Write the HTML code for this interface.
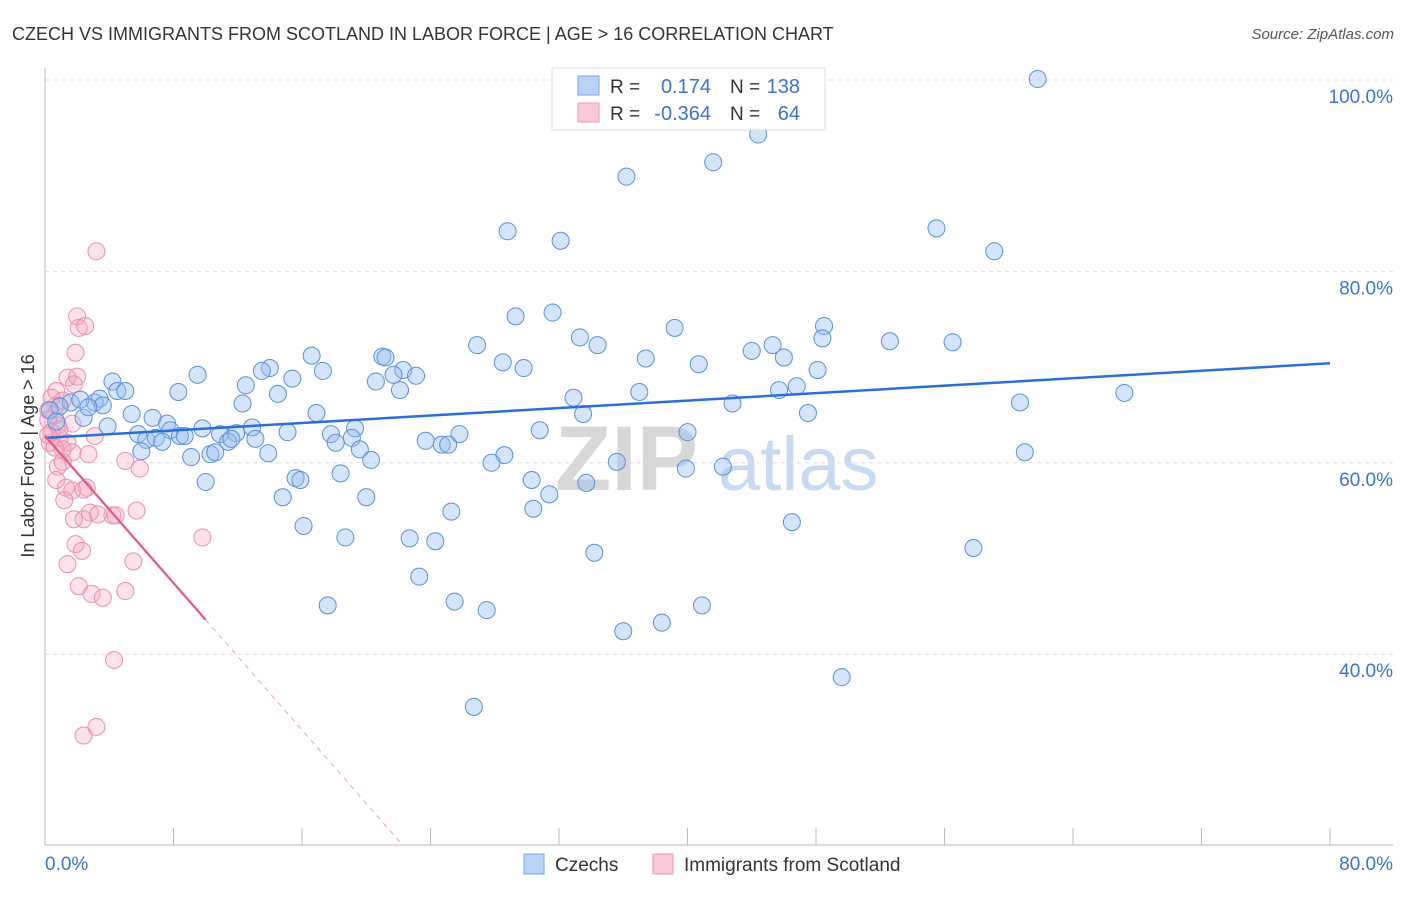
<!DOCTYPE html>
<html><head><meta charset="utf-8">
<style>
html,body{margin:0;padding:0;background:#fff;}
body{width:1406px;height:892px;overflow:hidden;font-family:"Liberation Sans",sans-serif;}
svg text{font-family:"Liberation Sans",sans-serif;}
</style></head>
<body>
<svg id="chart" width="1406" height="892" viewBox="0 0 1406 892">
  <text x="12" y="40" font-size="18" fill="#333">CZECH VS IMMIGRANTS FROM SCOTLAND IN LABOR FORCE | AGE &gt; 16 CORRELATION CHART</text>
  <text x="1394" y="39" font-size="15" fill="#555" font-style="italic" text-anchor="end">Source: ZipAtlas.com</text>
  <g>
    <text x="555" y="490" font-size="92" fill="#d8d8d8" font-family="Liberation Serif" font-weight="bold">ZIP</text>
    <text x="718" y="490" font-size="76" fill="#c8daf2">atlas</text>
  </g>
  <g id="grid"></g>
  <g id="axes"></g>
  <g id="pts"></g>
  <g id="trend"></g>
  <text transform="translate(34,456) rotate(-90)" font-size="18" fill="#333" text-anchor="middle">In Labor Force | Age &gt; 16</text>
  <g>
    <rect x="552" y="68" width="273" height="62" fill="#fff" stroke="#ddd"/>
    <rect x="578" y="76" width="21" height="19" fill="#b9d3f5" stroke="#7aa6e3"/>
    <rect x="578" y="103" width="21" height="19" fill="#fbc8d7" stroke="#ee9ab4"/>
    <text x="610" y="93" font-size="19" fill="#333">R =</text>
    <text x="711" y="93" font-size="20" fill="#3a74d0" text-anchor="end">0.174</text>
    <text x="730" y="93" font-size="19" fill="#333">N =</text>
    <text x="800" y="93" font-size="20" fill="#3a74d0" text-anchor="end">138</text>
    <text x="610" y="120" font-size="19" fill="#333">R =</text>
    <text x="711" y="120" font-size="20" fill="#3a74d0" text-anchor="end">-0.364</text>
    <text x="730" y="120" font-size="19" fill="#333">N =</text>
    <text x="800" y="120" font-size="20" fill="#3a74d0" text-anchor="end">64</text>
  </g>
  <g>
    <rect x="524" y="854" width="20" height="20" fill="#b9d3f5" stroke="#7aa6e3"/>
    <text x="555" y="871" font-size="19" fill="#333">Czechs</text>
    <rect x="653" y="854" width="20" height="20" fill="#fbc8d7" stroke="#ee9ab4"/>
    <text x="684" y="871" font-size="19" fill="#333">Immigrants from Scotland</text>
  </g>
</svg>
<script>
const blueX=[61.8,44.4,41.6,36.2,28.8,32.1,55.5,59.1,29.3,31.6,39.2,48.5,48.4,33.3,34.4,26.9,45.3,44.0,52.6,56.5,37.4,40.7,46.0,48.1,28.5,29.8,21.0,21.2,16.6,14.0,13.5,17.3,9.5,22.3,21.7,23.1,20.6,15.4,12.5,14.5,22.1,4.2,4.5,5.0,8.3,37.0,45.7,46.8,67.2,32.9,33.5,42.8,47.5,60.7,12.3,3.1,3.4,3.6,1.6,0.9,2.2,5.4,6.7,16.9,3.9,2.4,7.6,7.8,9.8,12.9,15.1,19.3,11.9,5.8,6.3,6.9,7.3,8.4,8.7,10.9,11.4,11.6,13.1,17.8,18.1,19.1,23.7,25.8,30.8,40.0,24.7,25.1,6.0,9.1,10.3,10.6,13.9,19.6,20.3,28.6,27.8,35.6,39.9,42.2,61.0,18.4,15.6,15.9,10.0,30.3,33.7,14.8,20.0,31.4,30.4,25.3,16.1,46.5,18.7,22.7,24.3,34.2,57.8,23.3,25.5,17.6,27.5,40.9,38.4,36.0,49.6,26.7,0.3,0.7,2.7];
const blueY=[100.1,94.3,91.4,89.9,84.2,83.2,84.5,82.1,75.3,75.7,74.1,74.3,73.0,73.1,72.3,72.3,72.3,71.7,72.7,72.6,70.9,70.3,71.0,69.7,70.5,69.9,71.1,71.0,71.2,69.9,69.6,69.6,69.2,69.7,69.2,69.1,68.5,68.8,68.1,67.2,67.6,68.5,67.5,67.5,67.4,67.4,67.6,68.0,67.3,66.8,65.1,66.2,65.2,66.3,66.2,66.3,66.7,66.0,66.3,65.9,66.6,65.1,64.7,65.2,63.8,64.7,64.1,63.4,63.6,63.7,63.2,63.6,63.1,63.0,62.4,62.6,62.2,62.8,62.8,63.0,62.2,62.5,62.5,63.0,62.1,62.6,62.3,63.0,63.4,63.2,61.9,61.9,61.2,60.6,60.9,61.1,61.0,61.4,60.3,60.8,60.0,60.1,59.4,59.6,61.1,58.9,58.4,58.2,58.0,58.2,57.9,56.4,56.4,56.7,55.2,54.9,53.4,53.8,52.2,52.1,51.8,50.6,51.1,48.1,45.5,45.1,44.6,45.1,43.3,42.4,37.6,34.5,65.5,64.3,65.8];
const pinkX=[3.2,2.0,2.1,2.5,1.9,1.4,2.0,1.8,0.7,0.4,1.1,0.2,0.6,0.2,0.8,1.7,0.4,0.9,0.3,1.4,3.1,0.6,1.1,1.7,2.7,1.1,0.8,5.0,5.9,0.7,1.3,1.7,2.6,2.4,1.2,2.8,3.3,4.2,4.4,5.7,1.8,2.4,1.9,9.8,2.3,1.4,5.5,2.1,2.9,3.6,5.0,4.3,3.2,2.4,0.7,0.9,0.2];
const pinkY=[82.1,75.3,74.1,74.3,71.5,68.9,69.0,68.2,67.5,66.8,66.5,65.5,65.0,64.5,63.9,64.1,63.2,62.6,62.1,62.1,62.8,61.6,61.4,61.1,60.9,60.1,59.6,60.2,59.4,58.2,57.4,57.1,57.4,57.2,56.1,54.8,54.6,54.5,54.5,55.0,54.1,54.1,51.5,52.2,50.8,49.4,49.7,47.1,46.3,45.9,46.6,39.4,32.4,31.5,66.0,63.5,62.9];
const blueTrend=[62.6,70.4];   // y at x=0 and x=80
const pinkTrend=[62.8,-1.92];  // intercept, slope
const yTicks=[100,80,60,40];
const xTickCount=10;

const NS="http://www.w3.org/2000/svg";
const X0=45,X1=1330,Y100=80,PX_PER=9.57;
const sx=v=>X0+(v/80)*(X1-X0);
const sy=v=>Y100+(100-v)*PX_PER;
function mk(tag,attrs,parent){const e=document.createElementNS(NS,tag);for(const k in attrs)e.setAttribute(k,attrs[k]);parent.appendChild(e);return e;}

const grid=document.getElementById('grid');
yTicks.forEach(t=>{
  const l=mk('line',{x1:X0,x2:1393,y1:sy(t),y2:sy(t),stroke:'#ddd','stroke-dasharray':'4,4'},grid);
  
  
  const tx=mk('text',{x:1393,y:sy(t)+23,'font-size':19,fill:'#3a74d0','text-anchor':'end'},grid);
  tx.textContent=t.toFixed(1)+'%';
  
  
});
const axes=document.getElementById('axes');
mk('line',{x1:X0,x2:X0,y1:68,y2:845,stroke:'#bbb'},axes);
mk('line',{x1:X0,x2:1393,y1:845,y2:845,stroke:'#bbb'},axes);
for(let k=0;k<=xTickCount;k++){
  const x=sx(k*8);
  const t=mk('line',{x1:x,x2:x,y1:828,y2:845,stroke:'#bbb'},axes);
  
  
}
const xl0=mk('text',{x:45,y:870,'font-size':19,fill:'#3a74d0'},axes);xl0.textContent='0.0%';


const xl1=mk('text',{x:1393,y:870,'font-size':19,fill:'#3a74d0','text-anchor':'end'},axes);xl1.textContent='80.0%';



const pts=document.getElementById('pts');
pinkX.forEach((v,i)=>{
  const c=mk('circle',{cx:sx(v),cy:sy(pinkY[i]),r:8.5,fill:'rgba(244,160,188,0.3)',stroke:'#eb8fac','stroke-width':1},pts);
  
  
});
blueX.forEach((v,i)=>{
  const c=mk('circle',{cx:sx(v),cy:sy(blueY[i]),r:8.5,fill:'rgba(150,190,240,0.4)',stroke:'#5a8fd9','stroke-width':1},pts);
  
  
});
const tr=document.getElementById('trend');
const bl=mk('line',{x1:sx(0),y1:sy(blueTrend[0]),x2:sx(80),y2:sy(blueTrend[1]),stroke:'#2a6fd6','stroke-width':2.5},tr);


const pv=x=>pinkTrend[0]+pinkTrend[1]*x;
const pl=mk('line',{x1:sx(0),y1:sy(pv(0)),x2:sx(10),y2:sy(pv(10)),stroke:'#e05a85','stroke-width':2.2},tr);


const xe=(20-pinkTrend[0])/pinkTrend[1];
const pd=mk('line',{x1:sx(10),y1:sy(pv(10)),x2:sx(xe),y2:sy(20),stroke:'#eaa0b8','stroke-width':1,'stroke-dasharray':'5,5'},tr);


</script>
</body></html>
